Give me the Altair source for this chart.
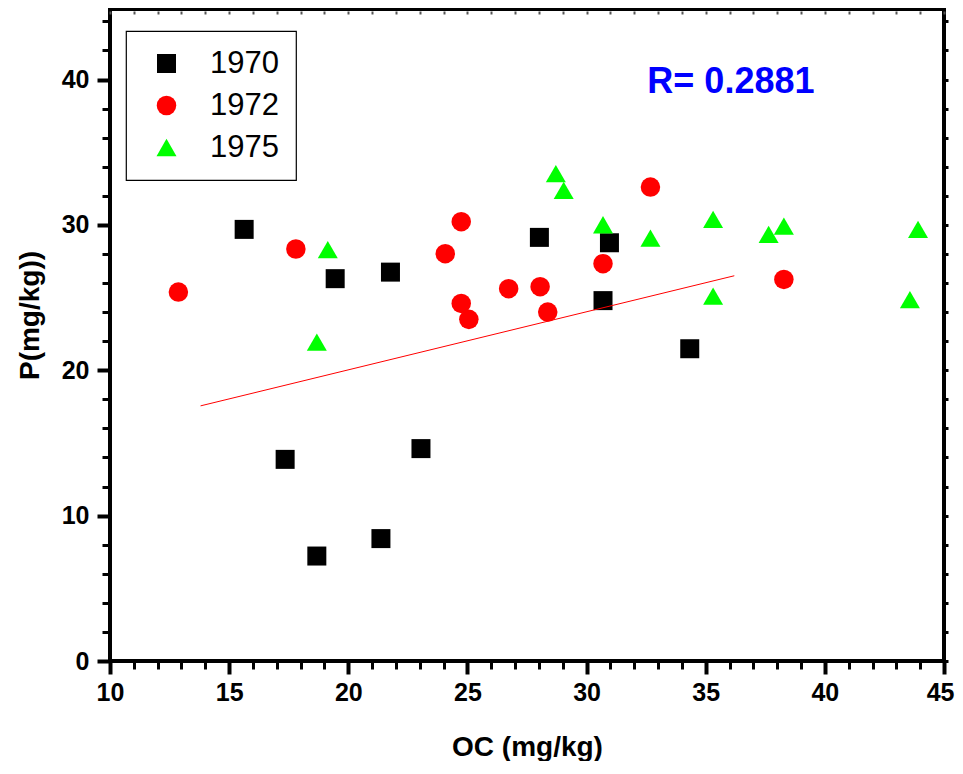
import altair as alt
import pandas as pd

FONT = "Liberation Sans"

# ---- data ----
years = ["1970", "1972", "1975"]
oc_1970 = [15.63, 19.45, 21.77, 28.02, 30.96, 30.69, 34.33, 17.35, 18.68, 21.37, 23.05]
p_1970 = [29.69, 26.30, 26.75, 29.14, 28.77, 24.79, 21.48, 13.87, 7.22, 8.42, 14.61]
oc_1972 = [12.87, 17.80, 24.07, 24.74, 24.74, 25.06, 26.73, 28.05, 28.37, 30.69, 32.68, 38.28]
p_1972 = [25.38, 28.34, 28.02, 30.22, 24.60, 23.50, 25.61, 25.75, 24.00, 27.33, 32.60, 26.25]
oc_1975 = [19.14, 18.68, 28.71, 29.04, 30.69, 32.68, 35.31, 35.31, 37.64, 38.28, 43.91, 43.57]
p_1975 = [28.30, 21.94, 33.52, 32.37, 30.01, 29.09, 30.38, 25.10, 29.35, 29.92, 29.69, 24.86]
fit_oc = [13.8, 36.2]
fit_p = [17.55, 26.5]
r_text = ["R= 0.2881"]
r_oc = [32.55]
r_p = [39.1]

x_major = [10, 15, 20, 25, 30, 35, 40, 45]
x_minor = [v for v in range(11, 45) if v % 5 != 0]
x_all = list(range(10, 46))
y_major = [0, 10, 20, 30, 40]
y_minor = [v for v in range(2, 45, 2) if v % 10 != 0]
y_all = list(range(0, 45, 2))

X_DOM = [10, 45]
Y_DOM = [0, 44.85]

rows = []
for yr, xs, ys in [("1970", oc_1970, p_1970), ("1972", oc_1972, p_1972), ("1975", oc_1975, p_1975)]:
    for a, b in zip(xs, ys):
        rows.append({"OC": a, "P": b, "Year": yr})
pts = pd.DataFrame(rows)
fit = pd.DataFrame({"OC": fit_oc, "P": fit_p})
rdf = pd.DataFrame({"OC": r_oc, "P": r_p, "t": r_text})


def ax(**kw):
    base = dict(labelFont=FONT, labelFontSize=25, labelFontWeight="bold", labelColor="black",
                titleFont=FONT, titleFontSize=28, titleFontWeight="bold", titleColor="black",
                domain=False, grid=False, tickColor="black", labelFlush=False, labelOverlap=False)
    base.update(kw)
    return alt.Axis(**base)


xs_scale = alt.Scale(domain=X_DOM, nice=False, zero=False)
ys_scale = alt.Scale(domain=Y_DOM, nice=False, zero=False)

legend = alt.Legend(title=None, orient="none", legendX=16, legendY=22,
                    strokeColor="black", fillColor="white",
                    padding=17, symbolStrokeWidth=0,
                    labelFont=FONT, labelFontSize=31, labelColor="black",
                    rowPadding=10, labelOffset=28, symbolOffset=8)

last_x = x_major[-1]

points = alt.Chart(pts).mark_point(filled=True, opacity=1).encode(
    x=alt.X("OC:Q", scale=xs_scale,
            axis=ax(values=x_major, tickSize=13, tickWidth=4, labelPadding=6,
                    labelAlign={"condition": {"test": f"datum.value === {last_x}", "value": "right"},
                                "value": "center"},
                    labelOffset={"condition": {"test": f"datum.value === {last_x}", "value": 10},
                                 "value": 0},
                    title="OC (mg/kg)", titlePadding=28, orient="bottom")),
    y=alt.Y("P:Q", scale=ys_scale,
            axis=ax(values=y_major, tickSize=13, tickWidth=4, labelPadding=8,
                    title="P(mg/kg))", titleX=-80, titleY=306, titleAngle=270,
                    titleAlign="center", titleBaseline="middle", orient="left")),
    color=alt.Color("Year:N", scale=alt.Scale(domain=years, range=["#000000", "#ff0000", "#00ff00"]),
                    legend=legend),
    shape=alt.Shape("Year:N", scale=alt.Scale(domain=years, range=["square", "circle", "triangle-up"]),
                    legend=legend),
    size=alt.Size("Year:N", scale=alt.Scale(domain=years, range=[361, 400, 1000]), legend=legend),
)

line = alt.Chart(fit).mark_line(color="#ff0000", strokeWidth=1).encode(
    x=alt.X("OC:Q", scale=xs_scale,
            axis=ax(values=x_minor, labels=False, tickSize=8, tickWidth=3, title=None, orient="bottom")),
    y=alt.Y("P:Q", scale=ys_scale,
            axis=ax(values=y_minor, labels=False, tickSize=8, tickWidth=3, title=None, orient="left")),
)

rtext = alt.Chart(rdf).mark_text(align="left", baseline="alphabetic", font=FONT, fontSize=36,
                                 fontWeight="bold", color="#0000ff").encode(
    x=alt.X("OC:Q", scale=xs_scale,
            axis=ax(values=x_all, labels=False, tickSize=3, tickWidth=2, tickColor="#555555",
                    offset=-5, title=None, orient="top")),
    y=alt.Y("P:Q", scale=ys_scale,
            axis=ax(values=y_all, labels=False, tickSize=4, tickWidth=3, title=None, orient="right")),
    text="t:N",
)

chart = alt.layer(points, line, rtext).resolve_axis(
    x="independent", y="independent"
).properties(
    width=834, height=652,
    autosize=alt.AutoSizeParams(type="none"),
    padding={"left": 102, "top": 1, "right": 11, "bottom": 100},
    background="white",
).configure_view(stroke="black", strokeWidth=4).configure_legend(strokeWidth=1.2)

chart.save("out.html", embed_options={"renderer": "svg", "actions": False})
